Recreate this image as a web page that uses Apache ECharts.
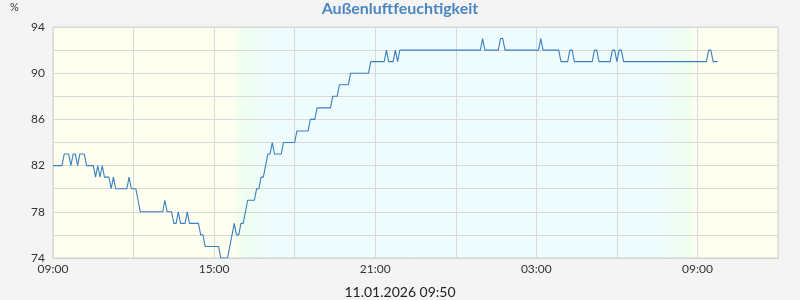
<!DOCTYPE html>
<html>
<head>
<meta charset="utf-8">
<script src="https://cdn.jsdelivr.net/npm/echarts@6/dist/echarts.min.js"></script>
<style>
html,body{margin:0;padding:0;background:#f4f4f4;}
#chart{width:800px;height:300px;}
</style>
</head>
<body>
<div id="chart"></div>
<script>
// Chart text
const titleText = 'Außenluftfeuchtigkeit';
const unitText = '%';
const footerText = '11.01.2026 09:50';

// Time base: hours counted from 10.01.2026 00:00, one sample every 5 minutes from 09:00
const startHour = 9;
const stepMinutes = 5;

// Relative humidity (%) per 5-minute sample, one row per hour
const humidity = [
  82,82,82,82,82,83,83,83,82,83,83,82, // 09:00
  83,83,83,82,82,82,82,81,82,81,82,81, // 10:00
  81,81,80,81,80,80,80,80,80,80,81,80, // 11:00
  80,80,79,78,78,78,78,78,78,78,78,78, // 12:00
  78,78,79,78,78,78,77,77,78,77,77,77, // 13:00
  78,77,77,77,77,77,76,76,75,75,75,75, // 14:00
  75,75,75,74,74,74,74,75,76,77,76,76, // 15:00
  77,77,78,79,79,79,79,80,80,81,81,82, // 16:00
  83,83,84,83,83,83,83,84,84,84,84,84, // 17:00
  84,85,85,85,85,85,85,86,86,86,87,87, // 18:00
  87,87,87,87,87,88,88,88,89,89,89,89, // 19:00
  89,90,90,90,90,90,90,90,90,90,91,91, // 20:00
  91,91,91,91,91,92,91,91,91,92,91,92, // 21:00
  92,92,92,92,92,92,92,92,92,92,92,92, // 22:00
  92,92,92,92,92,92,92,92,92,92,92,92, // 23:00
  92,92,92,92,92,92,92,92,92,92,92,92, // 00:00
  93,92,92,92,92,92,92,92,93,93,92,92, // 01:00
  92,92,92,92,92,92,92,92,92,92,92,92, // 02:00
  92,92,93,92,92,92,92,92,92,92,92,91, // 03:00
  91,91,91,92,92,91,91,91,91,91,91,91, // 04:00
  91,91,92,92,91,91,91,91,91,91,92,92, // 05:00
  91,92,92,91,91,91,91,91,91,91,91,91, // 06:00
  91,91,91,91,91,91,91,91,91,91,91,91, // 07:00
  91,91,91,91,91,91,91,91,91,91,91,91, // 08:00
  91,91,91,91,91,92,92,91,91,91        // 09:00
];

// Axis ranges and tick labels
const xMin = 9, xMax = 36, xInterval = 3;
const xLabelHours = [9, 15, 21, 27, 33];
const xLabels = ['09:00', '15:00', '21:00', '03:00', '09:00'];
const yMin = 74, yMax = 94, yInterval = 2;
const yLabels = [74, 78, 82, 86, 90, 94];

// Day / night background (hours from 10.01 00:00)
const dayEnd = 15.6, duskMid = 16.15, nightStart = 17.2;
const nightEnd = 31.55, dawnMid = 32.6, dayStart = 33.0;
const dayColor = '#fffff0', twilightColor = '#eefef0', nightColor = '#effcfe';

const span = xMax - xMin;
const f = h => (h - xMin) / span;

const seriesData = humidity.map((v, i) => [startHour + i * stepMinutes / 60, v]);

const chart = echarts.init(document.getElementById('chart'), null, {renderer: 'canvas'});
chart.setOption({
  animation: false,
  backgroundColor: '#f4f4f4',
  textStyle: {fontFamily: 'Lato'},
  title: [
    {text: titleText, left: 'center', top: 1, padding: 0,
     textStyle: {fontFamily: 'Lato', fontWeight: 'bold', fontSize: 16, color: '#4a86c0'}},
    {text: unitText, left: 10, top: 2, padding: 0,
     textStyle: {fontFamily: 'Lato', fontWeight: 'normal', fontSize: 11, color: '#333'}},
    {text: footerText, left: 'center', top: 285, padding: 0,
     textStyle: {fontFamily: 'Lato', fontWeight: 'normal', fontSize: 14, color: '#222'}}
  ],
  grid: {
    left: 53, right: 22, top: 27, bottom: 42,
    show: true,
    borderColor: '#d2d2d2', borderWidth: 1,
    backgroundColor: {
      type: 'linear', x: 0, y: 0, x2: 1, y2: 0,
      colorStops: [
        {offset: 0, color: dayColor},
        {offset: f(dayEnd), color: dayColor},
        {offset: f(duskMid), color: twilightColor},
        {offset: f(nightStart), color: nightColor},
        {offset: f(nightEnd), color: nightColor},
        {offset: f(dawnMid), color: twilightColor},
        {offset: f(dayStart), color: dayColor},
        {offset: 1, color: dayColor}
      ]
    }
  },
  xAxis: {
    type: 'value', min: xMin, max: xMax, interval: xInterval,
    axisLine: {show: true, lineStyle: {color: '#d2d2d2'}},
    axisTick: {show: false},
    splitLine: {show: true, lineStyle: {color: '#d9d9d9', width: 1}},
    axisLabel: {
      margin: 5, fontFamily: 'Lato', fontSize: 12, color: '#333',
      formatter: v => {
        const i = xLabelHours.indexOf(Math.round(v));
        return i >= 0 ? xLabels[i] : '';
      }
    }
  },
  yAxis: {
    type: 'value', min: yMin, max: yMax, interval: yInterval,
    axisLine: {show: false},
    axisTick: {show: false},
    splitLine: {show: true, lineStyle: {color: '#d9d9d9', width: 1}},
    axisLabel: {
      margin: 8, fontFamily: 'Lato', fontSize: 12, color: '#333',
      formatter: v => yLabels.indexOf(Math.round(v)) >= 0 ? String(Math.round(v)) : ''
    }
  },
  series: [{
    type: 'line',
    data: seriesData,
    showSymbol: false,
    symbol: 'none',
    lineStyle: {color: '#3a7fc0', width: 1.1},
    itemStyle: {color: '#3a7fc0'}
  }]
});
</script>
</body>
</html>
